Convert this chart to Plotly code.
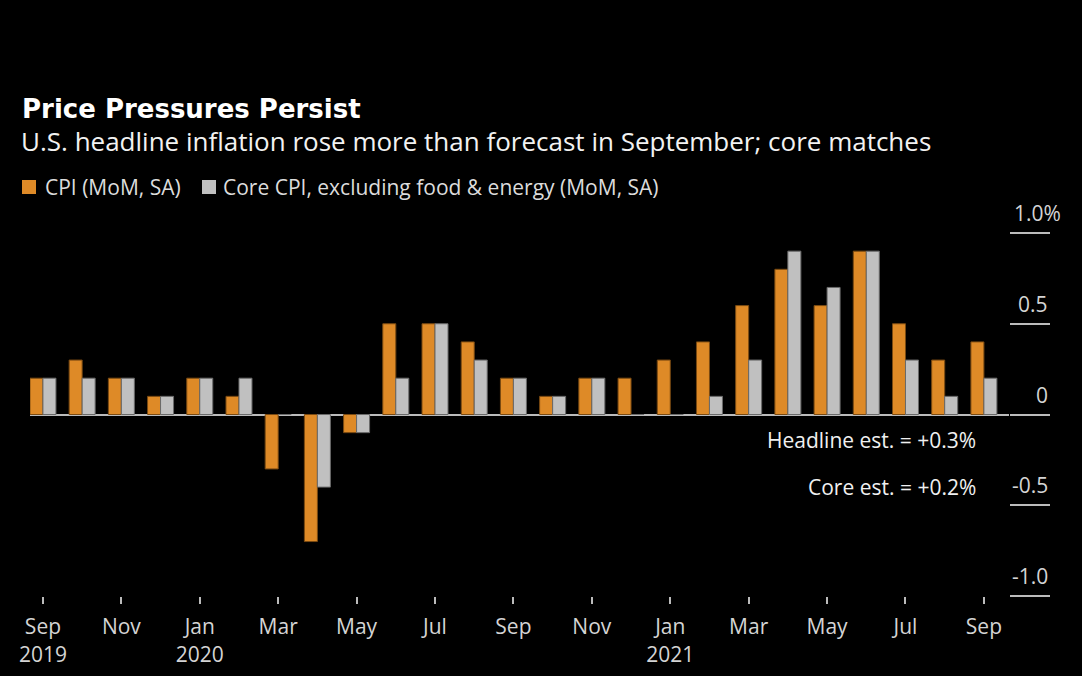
import plotly.graph_objects as go

months = ["Sep 2019", "Oct 2019", "Nov 2019", "Dec 2019", "Jan 2020", "Feb 2020", "Mar 2020",
          "Apr 2020", "May 2020", "Jun 2020", "Jul 2020", "Aug 2020", "Sep 2020", "Oct 2020",
          "Nov 2020", "Dec 2020", "Jan 2021", "Feb 2021", "Mar 2021", "Apr 2021", "May 2021",
          "Jun 2021", "Jul 2021", "Aug 2021", "Sep 2021"]
cpi = [0.2, 0.3, 0.2, 0.1, 0.2, 0.1, -0.3, -0.7, -0.1, 0.5, 0.5, 0.4, 0.2, 0.1, 0.2, 0.2,
       0.3, 0.4, 0.6, 0.8, 0.6, 0.9, 0.5, 0.3, 0.4]
core = [0.2, 0.2, 0.2, 0.1, 0.2, 0.2, 0.0, -0.4, -0.1, 0.2, 0.5, 0.3, 0.2, 0.1, 0.2, 0.0,
        0.0, 0.1, 0.3, 0.9, 0.7, 0.9, 0.3, 0.1, 0.2]
series_names = ["CPI (MoM, SA)", "Core CPI, excluding food & energy (MoM, SA)"]
x_ticktext = ["Sep<br>2019", "Nov", "Jan<br>2020", "Mar", "May", "Jul", "Sep", "Nov",
              "Jan<br>2021", "Mar", "May", "Jul", "Sep"]
y_tickvals = [1.0, 0.5, 0.0, -0.5, -1.0]
y_ticktext = ["1.0%", "0.5", "0", "-0.5", "-1.0"]

ORANGE = "#DE8A27"
GREY = "#C0C0C0"
FONT = "Open Sans"
TXT = "#d4d4d4"

W, H = 1082, 676
L, R, T, B = 30, 73, 233, 80
pw, ph = W - L - R, H - T - B


def px(xp):
    return (xp - L) / pw


def py(yp):
    return (H - B - yp) / ph


idx = list(range(len(months)))
fig = go.Figure()
fig.add_bar(x=idx, y=cpi, name=series_names[0],
            marker=dict(color=ORANGE, line=dict(color="#7a4a12", width=1)))
fig.add_bar(x=idx, y=core, name=series_names[1],
            marker=dict(color=GREY, line=dict(color="#6a6a6a", width=1)))

fig.update_layout(
    width=W, height=H,
    paper_bgcolor="black", plot_bgcolor="black",
    margin=dict(l=L, r=R, t=T, b=B, autoexpand=False),
    barmode="group", bargap=0.337, bargroupgap=0,
    font=dict(family=FONT, color=TXT, size=21),
    showlegend=False,
)
fig.update_xaxes(range=[-0.33, 24.64], tickvals=list(range(0, 25, 2)), ticktext=x_ticktext,
                 ticks="outside", ticklen=7, tickcolor="#bbbbbb", tickwidth=1.5,
                 ticklabelstandoff=5, automargin=False,
                 showgrid=False, showline=False, zeroline=False,
                 tickfont=dict(size=21, color=TXT))
fig.update_yaxes(range=[-1.0, 1.0], side="right", tickvals=y_tickvals, showticklabels=False,
                 ticks="outside", ticklen=40, tickcolor="#bbbbbb", tickwidth=1.5, automargin=False,
                 showgrid=False, showline=False, zeroline=True, zerolinecolor="#bbbbbb",
                 zerolinewidth=1.5)

# y tick labels above tick segments
for v, t in zip(y_tickvals, y_ticktext):
    fig.add_annotation(x=px(1050), xref="paper", y=v, yref="y", text=t, showarrow=False,
                       xanchor="right", yanchor="bottom", yshift=4, font=dict(size=21, color=TXT),
                       xshift=13 if t.endswith("%") else 0)

# titles
fig.add_annotation(x=px(20), y=py(109), xref="paper", yref="paper", text="<b>Price Pressures Persist</b>",
                   showarrow=False, xanchor="left", yanchor="middle",
                   font=dict(family="DejaVu Sans", size=26, color="white"))
fig.add_annotation(x=px(19), y=py(141), xref="paper", yref="paper",
                   text="U.S. headline inflation rose more than forecast in September; core matches",
                   showarrow=False, xanchor="left", yanchor="middle", font=dict(size=26, color="#f2f2f2"))

# legend (manual)
leg_sq = [(22, ORANGE), (202, GREY)]
leg_tx = [43, 221]
for (sx, c), tx, name in zip(leg_sq, leg_tx, series_names):
    fig.add_shape(type="rect", xref="paper", yref="paper", x0=px(sx), x1=px(sx + 14),
                  y0=py(194), y1=py(180), fillcolor=c, line=dict(width=0))
    fig.add_annotation(x=px(tx), y=py(187), xref="paper", yref="paper", text=name, showarrow=False,
                       xanchor="left", yanchor="middle", font=dict(size=21, color="#dcdcdc"))

# estimates
fig.add_annotation(x=px(978), y=py(440), xref="paper", yref="paper", text="Headline est. = +0.3%",
                   showarrow=False, xanchor="right", yanchor="middle", font=dict(size=21, color="#f0f0f0"))
fig.add_annotation(x=px(978), y=py(487), xref="paper", yref="paper", text="Core est. = +0.2%",
                   showarrow=False, xanchor="right", yanchor="middle", font=dict(size=21, color="#f0f0f0"))

fig.write_html("out.html", config={"displayModeBar": False},
               post_script="document.body.style.margin='0';document.body.style.background='black';")
